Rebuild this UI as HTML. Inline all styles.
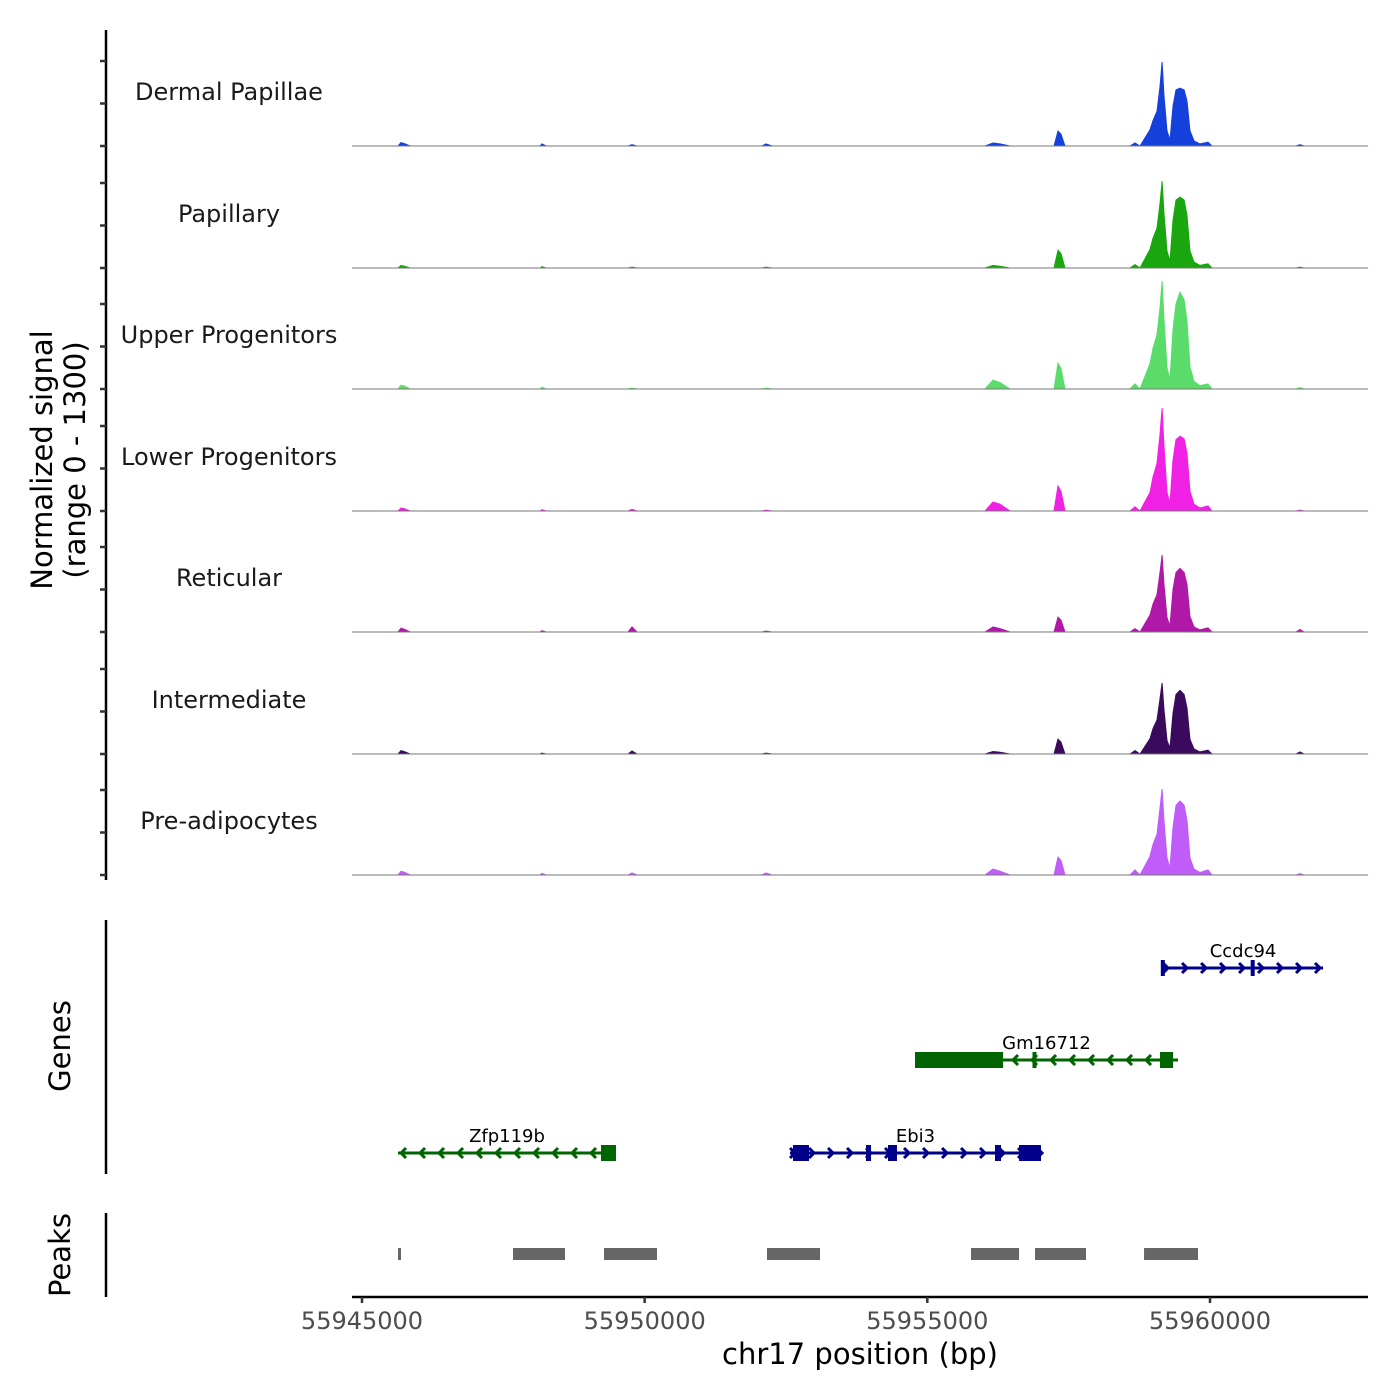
<!DOCTYPE html>
<html><head><meta charset="utf-8"><style>
html,body{margin:0;padding:0;background:#fff;}
svg{display:block;font-family:"DejaVu Sans","Liberation Sans",sans-serif;}
</style></head><body>
<svg id="chart" width="1400" height="1400" viewBox="0 0 1400 1400" xmlns="http://www.w3.org/2000/svg">
<g id="tracks"></g>
<g id="genes"></g>
<g id="peaks"></g>
<g id="axes"></g>
<text transform="translate(52,460) rotate(-90)" text-anchor="middle" font-size="29" fill="#000">Normalized signal</text>
<text transform="translate(85,460) rotate(-90)" text-anchor="middle" font-size="29" fill="#000">(range 0 - 1300)</text>
<text transform="translate(70,1046) rotate(-90)" text-anchor="middle" font-size="29" fill="#000">Genes</text>
<text transform="translate(70,1255) rotate(-90)" text-anchor="middle" font-size="29" fill="#000">Peaks</text>
<text x="860" y="1364" text-anchor="middle" font-size="29" fill="#000">chr17 position (bp)</text>
</svg>
<script>
const positions=[55944823,55945637,55945690,55945761,55945849,55948149,55948184,55948255,55949705,55949776,55949865,55952076,55952147,55952253,55956020,55956162,55956286,55956463,55957241,55957312,55957365,55957435,55958585,55958674,55958762,55958939,55958992,55959063,55959116,55959152,55959187,55959240,55959293,55959346,55959399,55959470,55959541,55959593,55959646,55959717,55959823,55959965,55960036,55961521,55961592,55961663,55962796];
const trackNames=["Dermal Papillae","Papillary","Upper Progenitors","Lower Progenitors","Reticular","Intermediate","Pre-adipocytes"];
const trackColors=["#1640dc","#1aa60e","#5bdc6a","#f020e4","#b019a8","#3a0a5c","#c05cf8"];
const sigDP=[0,0,40,25,0,0,25,0,0,15,0,0,25,0,0,35,25,0,0,175,140,0,0,35,0,190,300,410,700,990,590,180,70,470,660,680,660,530,180,60,25,45,0,0,15,0,0];
const sigPap=[0,0,30,20,0,0,15,0,0,10,0,0,10,0,0,30,20,0,0,210,170,0,0,40,0,220,350,470,760,1020,640,200,80,560,800,835,800,620,200,70,30,50,0,0,10,0,0];
const sigUpper=[0,0,45,30,0,0,20,0,0,10,0,0,10,0,0,105,75,0,0,305,240,0,0,60,0,300,480,640,960,1270,820,250,110,700,1000,1140,1050,800,260,90,40,60,0,0,15,0,0];
const sigLower=[0,0,35,25,0,0,15,0,0,20,0,0,10,0,0,105,80,0,0,295,230,0,0,50,0,220,400,560,900,1210,760,220,90,600,840,880,850,680,230,80,35,60,0,0,10,0,0];
const sigRet=[0,0,45,30,0,0,15,0,0,60,0,0,10,0,0,60,40,0,0,175,140,0,0,40,0,200,330,440,700,905,560,170,70,500,700,750,700,560,180,60,25,50,0,0,30,0,0];
const sigInt=[0,0,40,25,0,0,10,0,0,35,0,0,10,0,0,30,20,0,0,175,140,0,0,40,0,180,300,400,650,835,520,160,70,480,700,750,700,540,170,60,25,45,0,0,25,0,0];
const sigPre=[0,0,45,30,0,0,20,0,0,25,0,0,25,0,0,70,45,0,0,210,170,0,0,60,0,220,360,480,790,1010,640,200,80,560,820,870,820,640,200,70,30,60,0,0,15,0,0];
const signals=[sigDP,sigPap,sigUpper,sigLower,sigRet,sigInt,sigPre];
const xTicks=[55945000,55950000,55955000,55960000];
const geneNames=["Ccdc94","Gm16712","Ebi3","Zfp119b"];
const geneStarts=[55959169,55954782,55952571,55945637];
const geneEnds=[55962000,55959434,55957011,55949493];
const geneStrands=["+","-","+","-"];
const geneRows=[0,1,2,2];
const exonGene=[0,0,1,1,1,2,2,2,2,2,3];
const exonStarts=[55959130,55960720,55954782,55956860,55959116,55952624,55953915,55954304,55956197,55956622,55949228];
const exonEnds=[55959200,55960770,55956339,55956920,55959346,55952907,55954004,55954463,55956303,55957011,55949493];
const peakStarts=[55945637,55947671,55949281,55952164,55955773,55956905,55958833];
const peakEnds=[55945690,55948591,55950218,55953102,55956622,55957807,55959788];

const NS="http://www.w3.org/2000/svg";
const X0=362,BP0=55945000,PXPB=848/15000;
const xs=bp=>X0+(bp-BP0)*PXPB;
const baselines=[146,268,389,511,632,754,875];
const ys=(v,i)=>baselines[i]-v/1300*110.5;
function mk(tag,attrs,parent){const e=document.createElementNS(NS,tag);for(const k in attrs)e.setAttribute(k,attrs[k]);parent.appendChild(e);return e;}
const tracks=document.getElementById('tracks');
signals.forEach((sig,i)=>{
  let d="M"+xs(positions[0])+","+baselines[i];
  sig.forEach((v,j)=>{d+=" L"+xs(positions[j]).toFixed(1)+","+ys(v,i).toFixed(1);});
  d+=" L"+xs(positions[positions.length-1])+","+baselines[i]+"Z";
  const p=mk('path',{d:d,fill:trackColors[i],stroke:trackColors[i],'stroke-width':1},tracks);
  
  
  const l=mk('line',{x1:352,x2:1368,y1:baselines[i],y2:baselines[i],stroke:'#777','stroke-width':1},tracks);
  
  
  const t=mk('text',{x:229,y:baselines[i]-46,'text-anchor':'middle','font-size':24,fill:'#1a1a1a'},tracks);
  t.textContent=trackNames[i];
  
  
});
const axes=document.getElementById('axes');
mk('line',{x1:106,x2:106,y1:30,y2:880,stroke:'#000','stroke-width':2.5},axes);
baselines.forEach(b=>{[0,500,1000].forEach(v=>{const y=b-v/1300*110.5;mk('line',{x1:100,x2:106,y1:y,y2:y,stroke:'#333','stroke-width':2.5},axes);});});
mk('line',{x1:106,x2:106,y1:920,y2:1174,stroke:'#000','stroke-width':2.5},axes);
mk('line',{x1:106,x2:106,y1:1213,y2:1297,stroke:'#000','stroke-width':2.5},axes);
mk('line',{x1:352,x2:1368,y1:1297,y2:1297,stroke:'#000','stroke-width':2.5},axes);
xTicks.forEach(t=>{
  mk('line',{x1:xs(t),x2:xs(t),y1:1297,y2:1303,stroke:'#333','stroke-width':2.5},axes);
  const tx=mk('text',{x:xs(t),y:1329,'text-anchor':'middle','font-size':24,fill:'#4d4d4d'},axes);
  tx.textContent=t;
  
  
});
const genes=document.getElementById('genes');
const rowY=[968,1060,1153];
const gcol=s=>s==="+"?"#00008b":"#006400";
geneNames.forEach((n,g)=>{
  const y=rowY[geneRows[g]],c=gcol(geneStrands[g]);
  const x1=xs(geneStarts[g]),x2=xs(geneEnds[g]);
  const grp=mk('g',{},genes);
  
  
  mk('line',{x1:x1,x2:x2,y1:y,y2:y,stroke:c,'stroke-width':3},grp);
  const step=19;
  for(let x=x1+4;x<=x2+1;x+=step){
    const d=geneStrands[g]==="+"?`M${x-4},${y-5} L${x+1},${y} L${x-4},${y+5}`:`M${x+4},${y-5} L${x-1},${y} L${x+4},${y+5}`;
    mk('path',{d:d,stroke:c,'stroke-width':3,fill:'none'},grp);
  }
  const lbl=mk('text',{x:(x1+x2)/2,y:y-11,'text-anchor':'middle','font-size':18,fill:'#000'},grp);
  lbl.textContent=n;
});
exonGene.forEach((g,k)=>{
  const y=rowY[geneRows[g]],c=gcol(geneStrands[g]);
  const x1=xs(exonStarts[k]),x2=xs(exonEnds[k]);
  const r=mk('rect',{x:x1,y:y-8,width:Math.max(4,x2-x1),height:16,fill:c},genes);
  
  
});
const peaks=document.getElementById('peaks');
peakStarts.forEach((s,k)=>{
  const r=mk('rect',{x:xs(s),y:1248,width:Math.max(3,xs(peakEnds[k])-xs(s)),height:12,fill:'#666'},peaks);
  
  
});
</script>
</body></html>
